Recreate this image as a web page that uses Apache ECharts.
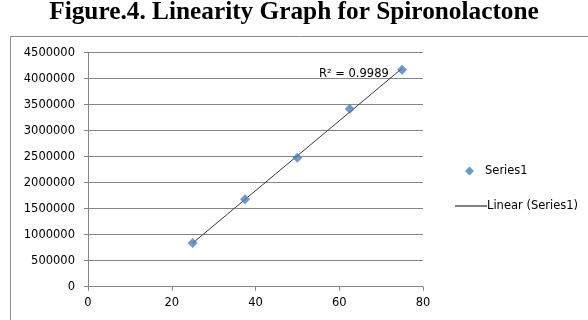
<!DOCTYPE html>
<html><head><meta charset="utf-8">
<script src="https://cdn.jsdelivr.net/npm/echarts@6/dist/echarts.min.js"></script>
<style>html,body{margin:0;padding:0;background:#fff}#c{width:588px;height:320px}</style>
</head><body><div id="c"></div>
<script>
var titleText = 'Figure.4. Linearity Graph for Spironolactone';
var concentrations = [25, 37.5, 50, 62.5, 75];
var areas = [840000, 1680000, 2480000, 3420000, 4170000];
var seriesName = 'Series1';
var trendName = 'Linear (Series1)';
var r2Text = 'R\u00b2 = 0.9989';
var xTicks = [0, 20, 40, 60, 80];
var yTicks = [0, 500000, 1000000, 1500000, 2000000, 2500000, 3000000, 3500000, 4000000, 4500000];

// least-squares trendline from the data
var n = concentrations.length, mx = 0, my = 0;
for (var i = 0; i < n; i++) { mx += concentrations[i]; my += areas[i]; }
mx /= n; my /= n;
var sxy = 0, sxx = 0;
for (var i = 0; i < n; i++) { sxy += (concentrations[i]-mx)*(areas[i]-my); sxx += (concentrations[i]-mx)*(concentrations[i]-mx); }
var slope = sxy/sxx, icpt = my - slope*mx;
var x0 = concentrations[0], x1 = concentrations[n-1];
var trend = [[x0, icpt + slope*x0], [x1, icpt + slope*x1]];

var chart = echarts.init(document.getElementById('c'));
var axisColor = '#868686';
var lblFont = {color:'#000', fontFamily:'DejaVu Sans', fontSize:11.5};
chart.setOption({
  animation:false,
  title:{text:titleText, left:'center', top:-5, textStyle:{fontFamily:'Liberation Serif', fontWeight:'bold', fontSize:25.3, color:'#000'}},
  graphic:[
    {type:'rect', shape:{x:10.5, y:36.5, width:600, height:300}, style:{fill:'none', stroke:'#8c8c8c', lineWidth:1}, z:-1},
    {type:'text', left:319, top:68, style:{text:r2Text, fontFamily:'DejaVu Sans', fontSize:11.5, fill:'#000'}}
  ],
  grid:{left:88, right:165, top:52.7, bottom:33.3},
  xAxis:{type:'value', min:xTicks[0], max:xTicks[xTicks.length-1], interval:20,
    axisLine:{lineStyle:{color:axisColor}}, axisTick:{lineStyle:{color:axisColor}, length:4},
    splitLine:{show:false}, axisLabel:Object.assign({margin:10, formatter:function(v){return String(v);}}, lblFont)},
  yAxis:{type:'value', min:yTicks[0], max:yTicks[yTicks.length-1], interval:500000,
    axisLine:{show:true, lineStyle:{color:axisColor}}, axisTick:{show:true, lineStyle:{color:axisColor}, length:4},
    splitLine:{lineStyle:{color:axisColor}}, axisLabel:Object.assign({margin:13, formatter:function(v){return String(v);}}, lblFont)},
  legend:[
    {data:[{name:seriesName, icon:'diamond'}], left:460, top:160, itemWidth:9, itemHeight:9, itemGap:0,
     textStyle:{fontFamily:'DejaVu Sans', fontSize:11.5, color:'#000', padding:[0,0,0,6]}},
    {data:[{name:trendName, icon:'rect'}], left:450, top:195, itemWidth:32, itemHeight:1, itemGap:0,
     textStyle:{fontFamily:'DejaVu Sans', fontSize:11.5, color:'#000', padding:[0,0,0,-5]}}
  ],
  series:[
    {name:trendName, type:'line', data:trend, symbol:'none', lineStyle:{color:'#3a3a3a', width:1}, itemStyle:{color:'#000'}, z:1},
    {name:seriesName, type:'scatter', data:concentrations.map(function(x,i){return [x, areas[i]];}), symbol:'diamond', symbolSize:10, itemStyle:{color:'#4a7ebb'}, z:2}
  ]
});
</script></body></html>
